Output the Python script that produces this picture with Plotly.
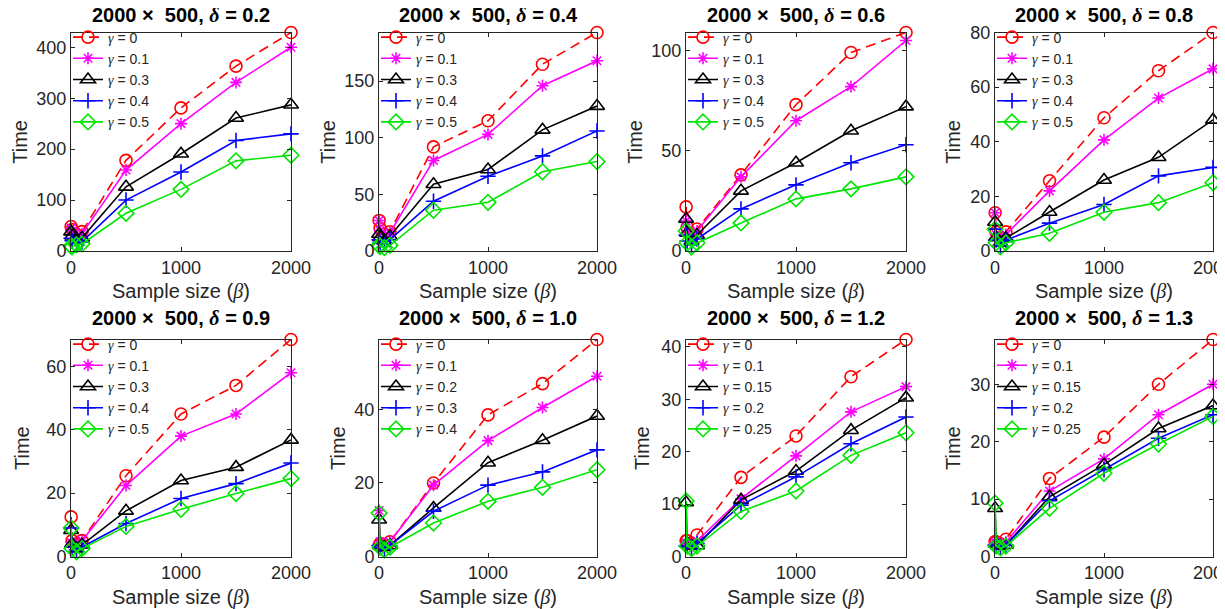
import plotly.graph_objects as go

# ---------------- data ----------------
x_vals = [1, 10, 50, 100, 500, 1000, 1500, 2000]

deltas = ["0.2", "0.4", "0.6", "0.8", "0.9", "1.0", "1.2", "1.3"]

gammas = [
    ["0", "0.1", "0.3", "0.4", "0.5"],
    ["0", "0.1", "0.3", "0.4", "0.5"],
    ["0", "0.1", "0.3", "0.4", "0.5"],
    ["0", "0.1", "0.3", "0.4", "0.5"],
    ["0", "0.1", "0.3", "0.4", "0.5"],
    ["0", "0.1", "0.2", "0.3", "0.4"],
    ["0", "0.1", "0.15", "0.2", "0.25"],
    ["0", "0.1", "0.15", "0.2", "0.25"],
]

# time values per subplot, per gamma series
time_d02 = [
    [48, 42, 33, 38, 178, 281, 363, 429],
    [45, 38, 30, 34, 159, 250, 331, 400],
    [38, 30, 22, 26, 126, 191, 261, 287],
    [25, 20, 15, 18, 100, 155, 217, 230],
    [10, 8, 12, 14, 74, 121, 177, 188],
]
time_d04 = [
    [27, 20, 15, 17, 92, 115, 165, 193],
    [27, 18, 13, 16, 80, 103, 146, 168],
    [15, 12, 9, 13, 59, 72, 107, 128],
    [10, 7, 6, 10, 44, 66, 84, 106],
    [5, 4, 3, 5, 36, 43, 70, 79],
]
time_d06 = [
    [22, 12, 8, 11, 38, 73, 99, 109],
    [15, 10, 7, 10, 37, 65, 82, 105],
    [16, 9, 5, 8, 30, 44, 60, 72],
    [8, 5, 3, 6, 21, 33, 44, 53],
    [10, 4, 2, 4, 14, 26, 31, 37],
]
time_d08 = [
    [14, 7, 5, 7, 25.7, 48.8, 66, 80],
    [14, 6, 4, 6, 22, 40.7, 56, 66.7],
    [10.6, 5, 3, 4.7, 14.3, 26, 34.3, 48],
    [8, 4, 2, 4, 10.2, 17, 27.5, 30.6],
    [8, 3, 1.5, 3, 6.5, 14.2, 17.7, 25],
]
time_d09 = [
    [12.5, 5, 4, 5, 25.5, 45, 54, 68.5],
    [4.5, 4, 3, 5, 22.4, 38, 45, 58],
    [8.3, 4, 2.5, 3.7, 14.4, 24, 28.2, 36.8],
    [9, 3, 2, 3, 10.4, 18.3, 23, 29.5],
    [9, 2.5, 1.5, 2.5, 9.5, 14.9, 19.9, 24.6],
]
time_d10 = [
    [3, 3.5, 3, 4, 20, 38.5, 47, 59],
    [12.5, 4, 3, 4, 19.4, 31.5, 40.5, 49],
    [10, 3, 2.5, 3, 13.2, 25.5, 31.6, 38.2],
    [3, 2.5, 2, 3, 12.3, 19.4, 23, 29],
    [11.8, 2.5, 1.8, 2.5, 9.1, 15, 18.8, 23.6],
]
time_d12 = [
    [3, 3, 2.5, 4.1, 15.1, 23, 34.3, 41.4],
    [2.5, 2.5, 2, 3, 11, 19.2, 27.6, 32.4],
    [10.3, 2.5, 2, 2.1, 10.8, 16.3, 24.1, 30.3],
    [2, 2, 1.8, 2.5, 9.8, 15.2, 21.5, 26.6],
    [10.6, 2, 1.5, 2, 8.6, 12.5, 19.3, 23.6],
]
time_d13 = [
    [2.6, 2.5, 2.2, 3, 13.6, 20.8, 30, 37.8],
    [2.5, 2.3, 2, 2.5, 11.4, 17, 24.7, 30],
    [8.4, 2.2, 1.8, 2, 10.4, 16, 22.3, 26.3],
    [2, 2, 1.6, 2, 9.7, 15.1, 20.6, 24.7],
    [9.3, 1.8, 1.5, 1.8, 8.4, 14.5, 19.6, 24.4],
]
all_times = [time_d02, time_d04, time_d06, time_d08,
             time_d09, time_d10, time_d12, time_d13]

y_ticks = [
    [0, 100, 200, 300, 400],
    [0, 50, 100, 150],
    [0, 50, 100],
    [0, 20, 40, 60, 80],
    [0, 20, 40, 60],
    [0, 20, 40],
    [0, 10, 20, 30, 40],
    [0, 10, 20, 30],
]
x_ticks = [0, 1000, 2000]

# ---------------- styles ----------------
W, H = 1225, 609
colors = ["#ff0000", "#ff00ff", "#000000", "#0000ff", "#00e600"]
symbols = ["circle-open", "asterisk-open", "triangle-up-open", "cross-thin-open", "diamond-open"]
msizes = [12, 10, 13, 11, 12]
dashes = ["10px,6px", "solid", "solid", "solid", "solid"]

col_px = [(63, 283), (371, 589), (678, 898), (987, 1205)]
row_px = [(24.5, 243), (331.5, 548.5)]
title_shift = [4, 8]
ylabel_shift = [-51, -51, -51, -42, -49, -41, -44, -42]

FONT = "Liberation Sans, Arial, sans-serif"
TXT = "#262626"
GREEK = "<span style='font-family:Liberation Serif'><i>{}</i></span>"

fig = go.Figure()
layout = dict(
    width=W, height=H,
    margin=dict(l=0, r=0, t=0, b=0, autoexpand=False),
    paper_bgcolor="white", plot_bgcolor="white",
    font=dict(family=FONT, color=TXT),
    annotations=[],
)

for i in range(8):
    r, c = divmod(i, 4)
    n = i + 1
    xa = "x" if n == 1 else f"x{n}"
    ya = "y" if n == 1 else f"y{n}"
    lg = "legend" if n == 1 else f"legend{n}"
    x0, x1 = col_px[c][0] / W, col_px[c][1] / W
    y0, y1 = 1 - row_px[r][1] / H, 1 - row_px[r][0] / H
    ymax = max(max(s) for s in all_times[i])

    for k in range(5):
        fig.add_trace(go.Scatter(
            x=x_vals, y=all_times[i][k], xaxis=xa, yaxis=ya, legend=lg,
            mode="lines+markers",
            name=GREEK.format("γ") + f" = {gammas[i][k]}",
            line=dict(color=colors[k], width=1.6, dash=dashes[k]),
            marker=dict(symbol=symbols[k], size=msizes[k], color=colors[k],
                        line=dict(width=1.6, color=colors[k])),
            cliponaxis=False,
        ))

    axkey_x = "xaxis" if n == 1 else f"xaxis{n}"
    axkey_y = "yaxis" if n == 1 else f"yaxis{n}"
    layout[axkey_x] = dict(
        domain=[x0, x1], anchor=ya, range=[0, 2000], automargin=False,
        tickvals=x_ticks, ticks="inside", ticklen=4, tickcolor=TXT,
        showline=True, linecolor=TXT, linewidth=1, mirror="ticks",
        showgrid=False, zeroline=False, ticklabeloverflow="allow",
        tickfont=dict(size=18, color=TXT, family=FONT),
    )
    layout[axkey_y] = dict(
        domain=[y0, y1], anchor=xa, range=[0, ymax], automargin=False,
        tickvals=y_ticks[i], ticks="inside", ticklen=4, tickcolor=TXT,
        showline=True, linecolor=TXT, linewidth=1, mirror="ticks",
        showgrid=False, zeroline=False, ticklabeloverflow="allow",
        tickfont=dict(size=18, color=TXT, family=FONT),
    )
    layout[lg] = dict(
        x=x0 - 3 / W, y=y1 + 11 / H, xanchor="left", yanchor="top",
        bgcolor="rgba(0,0,0,0)", borderwidth=0,
        font=dict(size=14, color=TXT, family=FONT),
        itemwidth=30, tracegroupgap=0,
    )
    # title
    layout["annotations"].append(dict(
        xref="paper", yref="paper", x=(x0 + x1) / 2, y=y1,
        yanchor="bottom", xanchor="center", yshift=title_shift[r], showarrow=False,
        text="<b>2000 ×\u00a0 500, " + GREEK.format("δ") + f" = {deltas[i]}</b>",
        font=dict(size=20, color="#000000", family=FONT),
    ))
    # x label
    layout["annotations"].append(dict(
        xref="paper", yref="paper", x=(x0 + x1) / 2, y=y0,
        yanchor="top", xanchor="center", yshift=-27, showarrow=False,
        text="Sample size (" + GREEK.format("β") + ")",
        font=dict(size=20, color=TXT, family=FONT),
    ))
    # y label
    layout["annotations"].append(dict(
        xref="paper", yref="paper", x=x0, y=(y0 + y1) / 2,
        yanchor="middle", xanchor="center", xshift=ylabel_shift[i], showarrow=False,
        textangle=-90, text="Time",
        font=dict(size=20, color=TXT, family=FONT),
    ))

fig.update_layout(**layout)
fig.write_html("out.html")
